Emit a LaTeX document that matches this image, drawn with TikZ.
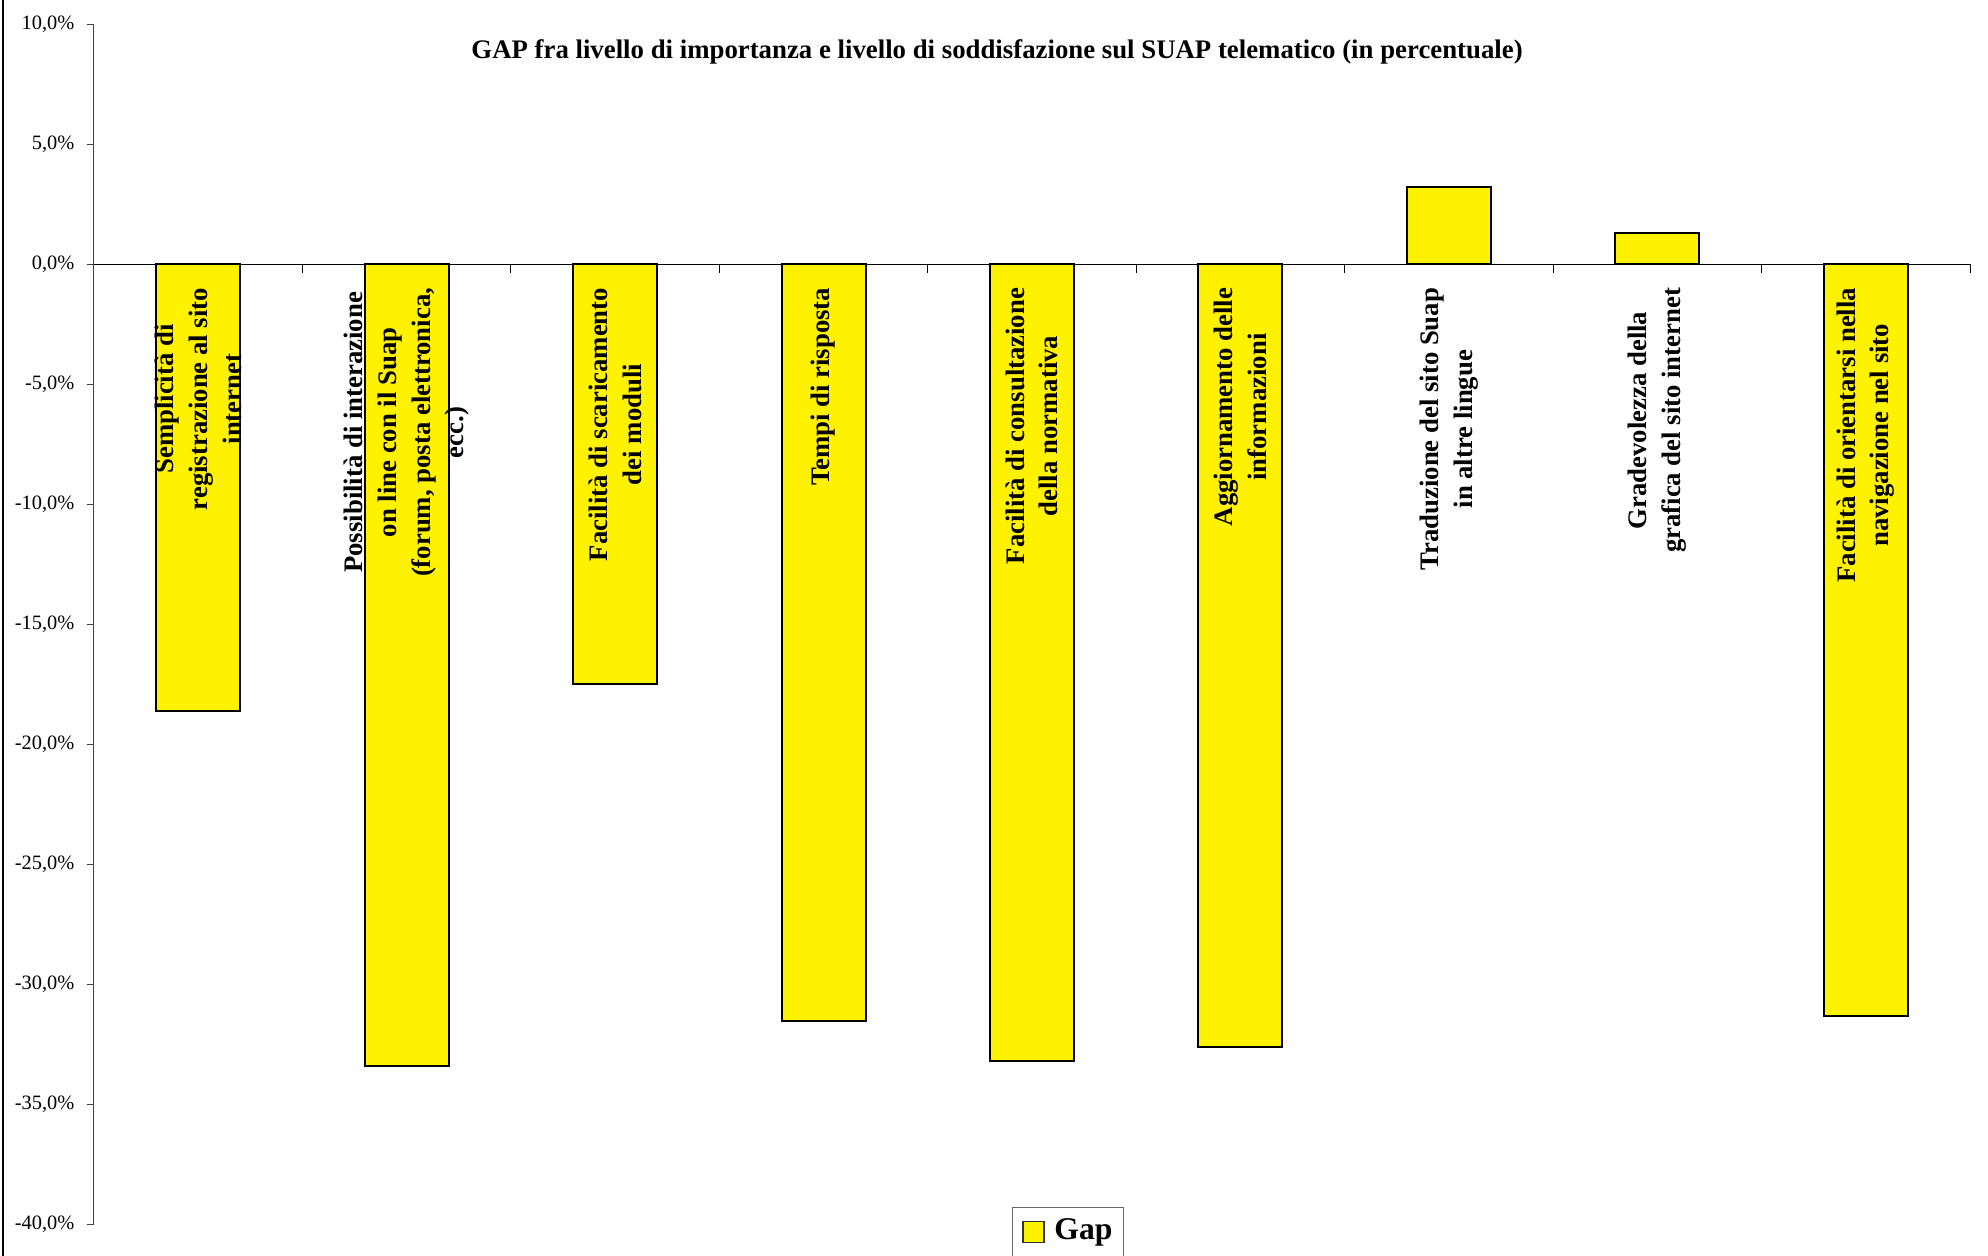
\documentclass[tikz,border=0pt]{standalone}
\usepackage{fontspec}
\setmainfont{Liberation Serif}
\usepackage{tikz}
\usetikzlibrary{positioning,fit}
\tikzset{gapbar/.style={draw=black,line width=0.02cm,fill=yellow},
  cat/.style={rotate=90,anchor=east,align=center,inner sep=0pt,font=\fontsize{7.6}{9.6}\selectfont\bfseries},
  ylab/.style={anchor=east,inner sep=0pt,font=\fontsize{5.8}{6.9}\selectfont},
  legmark/.style={draw=black!80,line width=0.015cm,fill=yellow,minimum size=0.21cm,inner sep=0pt},
  legbox/.style={draw=black!60,line width=0.01cm,inner xsep=0.1cm,inner ysep=0.1cm}}

\begin{document}
\begin{tikzpicture}[x=0.01cm,y=0.24cm]
    \useasboundingbox (-94,-41.2917) rectangle (1894,11);
    % chart border
    \draw[line width=0.015cm] (-91,-41.2917) -- (-91,11);

    % value axis
    \draw[black!75,line width=0.01cm] (0,-40) -- (0,10);
    \draw[black!75,line width=0.01cm] (-7,10) -- (0,10) (-7,5) -- (0,5) (-7,0) -- (0,0)
        (-7,-5) -- (0,-5) (-7,-10) -- (0,-10) (-7,-15) -- (0,-15) (-7,-20) -- (0,-20)
        (-7,-25) -- (0,-25) (-7,-30) -- (0,-30) (-7,-35) -- (0,-35) (-7,-40) -- (0,-40);
    \node[ylab] (y10) at (-19,10) {10,0\%};
    \node[ylab] (y5) at (-19,5) {5,0\%};
    \node[ylab] (y0) at (-19,0) {0,0\%};
    \node[ylab] (ym5) at (-19,-5) {-5,0\%};
    \node[ylab] (ym10) at (-19,-10) {-10,0\%};
    \node[ylab] (ym15) at (-19,-15) {-15,0\%};
    \node[ylab] (ym20) at (-19,-20) {-20,0\%};
    \node[ylab] (ym25) at (-19,-25) {-25,0\%};
    \node[ylab] (ym30) at (-19,-30) {-30,0\%};
    \node[ylab] (ym35) at (-19,-35) {-35,0\%};
    \node[ylab] (ym40) at (-19,-40) {-40,0\%};

    % category axis
    \draw[line width=0.01cm] (0,0) -- (1876,0);
    \draw[line width=0.01cm] (208.4,0) -- (208.4,-0.35) (416.9,0) -- (416.9,-0.35)
        (625.3,0) -- (625.3,-0.35) (833.8,0) -- (833.8,-0.35) (1042.2,0) -- (1042.2,-0.35)
        (1250.7,0) -- (1250.7,-0.35) (1459.1,0) -- (1459.1,-0.35) (1667.6,0) -- (1667.6,-0.35)
        (1876,0) -- (1876,-0.35);

    % bars
    \draw[gapbar] (62.2,0) rectangle (146.2,-18.6);
    \draw[gapbar] (270.7,0) rectangle (354.7,-33.4);
    \draw[gapbar] (479.1,0) rectangle (563.1,-17.5);
    \draw[gapbar] (687.5,0) rectangle (771.5,-31.5);
    \draw[gapbar] (895.9,0) rectangle (979.9,-33.2);
    \draw[gapbar] (1104.4,0) rectangle (1188.4,-32.6);
    \draw[gapbar] (1312.8,0) rectangle (1396.8,3.2);
    \draw[gapbar] (1521.3,0) rectangle (1605.3,1.3);
    \draw[gapbar] (1729.7,0) rectangle (1813.7,-31.3);

    % category labels
    \node[cat] (sempl) at (104.2,-0.96) {Semplicità di\\registrazione al sito\\internet};
    \node[cat] (possib) at (312.7,-0.96) {Possibilità di interazione\\on line con il Suap\\(forum, posta elettronica,\\ecc.)};
    \node[cat] (scaric) at (521.1,-0.96) {Facilità di scaricamento\\dei moduli};
    \node[cat] (tempi) at (729.5,-0.96) {Tempi di risposta};
    \node[cat] (norm) at (937.9,-0.96) {Facilità di consultazione\\della normativa};
    \node[cat] (aggiorn) at (1146.4,-0.96) {Aggiornamento delle\\informazioni};
    \node[cat] (tradu) at (1354.8,-0.96) {Traduzione del sito Suap\\in altre lingue};
    \node[cat] (grad) at (1563.3,-0.96) {Gradevolezza della\\grafica del sito internet};
    \node[cat] (orient) at (1771.7,-0.96) {Facilità di orientarsi nella\\navigazione nel sito};

    % title
    \node[font=\fontsize{7.62}{9}\selectfont\bfseries] (title) at (903,8.85) {GAP fra livello di importanza e livello di soddisfazione sul SUAP telematico (in percentuale)};

    % legend
    \node[inner sep=0pt,font=\fontsize{9}{10}\selectfont\bfseries] (gap) at (989.5,-40.3) {Gap};
    \node[legmark,left=0.09cm of gap] (mark) {};
    \node[legbox,fit=(mark)(gap)] (leg) {};
\end{tikzpicture}
\end{document}
